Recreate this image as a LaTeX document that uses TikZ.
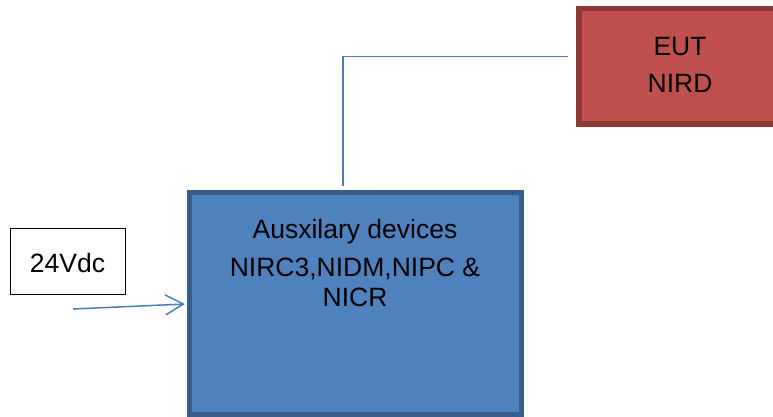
\documentclass[tikz,border=0pt]{standalone}
\usepackage{fontspec}
\setmainfont{Liberation Sans}
\usetikzlibrary{arrows.meta}
\definecolor{bluefill}{HTML}{4F81BD}
\definecolor{blueedge}{HTML}{385D8A}
\definecolor{redfill}{HTML}{C0504D}
\definecolor{rededge}{HTML}{8C3836}
\definecolor{wire}{HTML}{4A7EBB}
\tikzset{
  lbl/.style={anchor=base, inner sep=0pt, font=\fontsize{26.5}{31}\selectfont, text=black},
  wireline/.style={draw=wire, line width=1.5pt},
}
\begin{document}
\begin{tikzpicture}[x=1pt, y=-1pt]
\useasboundingbox (0,0) rectangle (773,416);
\clip (0,0) rectangle (773,416);
% boxes
\node[draw=blueedge, fill=bluefill, line width=5pt, anchor=north west, minimum width=332pt, minimum height=222pt, inner sep=0pt, outer sep=0pt] (aux) at (189.5,192.5) {};
\node[draw=rededge, fill=redfill, line width=5.5pt, anchor=north west, minimum width=230pt, minimum height=115.5pt, inner sep=0pt, outer sep=0pt] (eut) at (579,8.5) {};
\node[draw=black, line width=0.7pt, anchor=north west, minimum width=115pt, minimum height=66pt, inner sep=0pt] (src) at (10,228) {};
% texts
\node[lbl] (eut1) at (680,55) {EUT};
\node[lbl] (eut2) at (680,92) {NIRD};
\node[lbl] (aux1) at (355,238) {Ausxilary devices};
\node[lbl] (aux2) at (355,276) {NIRC3,NIDM,NIPC \&};
\node[lbl] (aux3) at (355,306.5) {NICR};
\node[lbl] (src1) at (67.5,272) {24Vdc};
% connectors
\coordinate (wstart) at (343,186);
\coordinate (wend) at (568,56.5);
\coordinate (ain) at (73,309);
\coordinate (aend) at (185,304);
\draw[wireline] (wstart) |- (wend);
\draw[wireline, -{Straight Barb[length=18pt, width=20pt, line width=1.5pt]}] (ain) -- (aend);
\end{tikzpicture}
\end{document}
